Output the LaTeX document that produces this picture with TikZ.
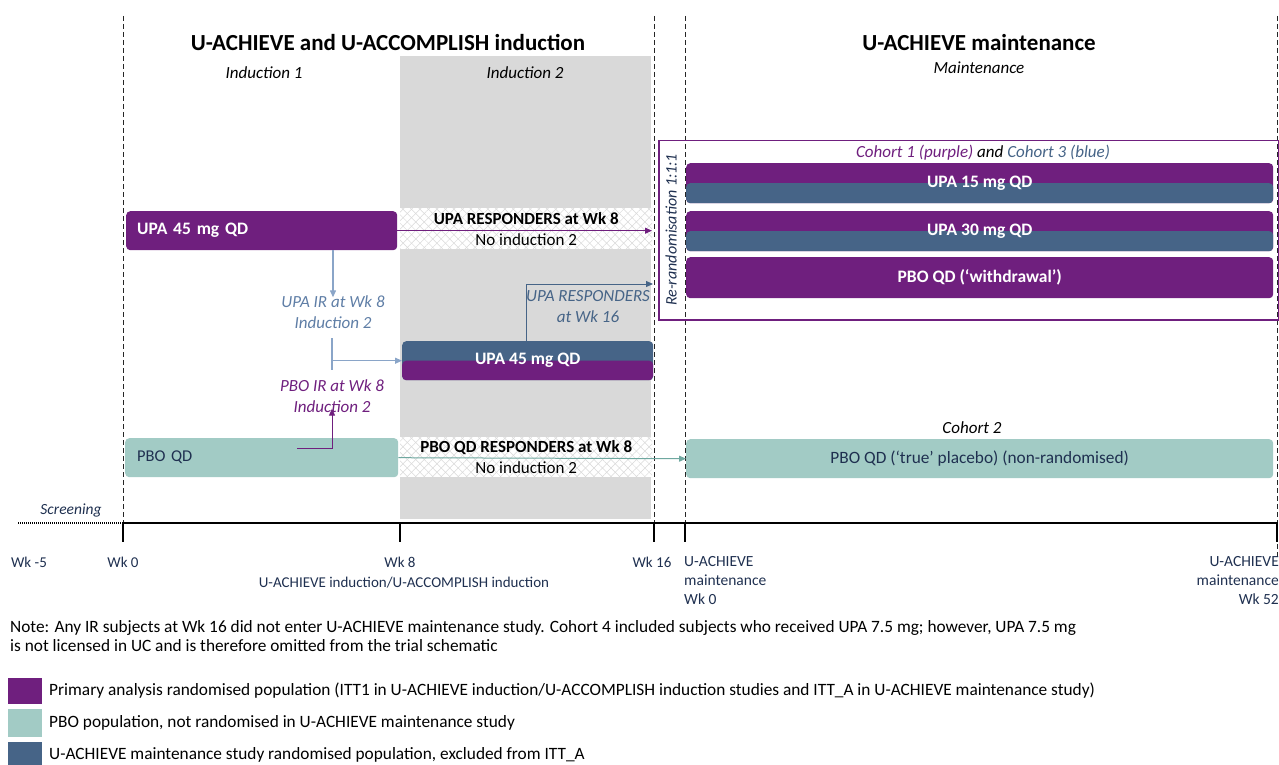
\documentclass[tikz,border=0pt]{standalone}
\usepackage{fontspec}
\setmainfont{Carlito}
\usetikzlibrary{arrows.meta,patterns.meta}
\definecolor{cpurple}{HTML}{6F1F7E}
\definecolor{cblue}{HTML}{466487}
\definecolor{cteal}{HTML}{A2CBC5}
\definecolor{cgray}{HTML}{D9D9D9}
\definecolor{cnavy}{HTML}{1F3050}
\definecolor{cslate}{HTML}{5F7EA6}
\definecolor{clight}{HTML}{8AA5C8}
\definecolor{cdteal}{HTML}{6FA8A0}
\tikzset{
  bar/.style={rounded corners=4pt, anchor=north west, inner sep=0pt, text=white,
    font=\fontsize{17.5}{20}\selectfont\bfseries},
  hatchbox/.style={anchor=north west, inner sep=0pt, fill=white, align=center,
    font=\fontsize{17}{21}\selectfont,
    postaction={pattern={Lines[angle=45,distance=6pt,line width=0.5pt]}, pattern color=black!15},
    postaction={pattern={Lines[angle=-45,distance=6pt,line width=0.5pt]}, pattern color=black!15}},
  vdash/.style={dash pattern=on 5pt off 3pt, line width=0.8pt, black!85},
  tipa/.style={-{Triangle[length=7pt,width=6pt]}},
  lab/.style={font=\fontsize{15}{20}\selectfont, text=cnavy, inner sep=0pt},
  ilab/.style={font=\fontsize{17}{21}\selectfont\itshape, inner sep=0pt, align=center},
  tick/.style={line width=1.8pt},
  legsq/.style={anchor=north west, inner sep=0pt, minimum width=34pt},
  legtx/.style={anchor=west, inner sep=0pt, font=\fontsize{17.3}{19}\selectfont},
  split/.style={path picture={\fill[cblue] (path picture bounding box.west) rectangle (path picture bounding box.south east);}},
}
\begin{document}
\begin{tikzpicture}[x=1pt,y=-1pt]
\useasboundingbox (0,0) rectangle (1279,765);

% grey induction 2 area
\fill[cgray] (400,56) rectangle (651,519);

% vertical dashed lines
\draw[vdash] (123,16) -- (123,523);
\draw[vdash] (654,16) -- (654,523);
\draw[vdash] (685,16) -- (685,523);
\draw[vdash] (1277,16) -- (1277,560);

% titles
\node[inner sep=0pt, font=\fontsize{23}{26}\selectfont\bfseries] (t1) at (388,42) {U-ACHIEVE and U-ACCOMPLISH induction};
\node[inner sep=0pt, font=\fontsize{23}{26}\selectfont\bfseries] (t2) at (979,43) {U-ACHIEVE maintenance};
\node[ilab] (ind1) at (264,73) {Induction 1};
\node[ilab] (ind2) at (525,73) {Induction 2};
\node[ilab] (maint) at (979,68) {Maintenance};

% hatched responder areas
\node[hatchbox, minimum width=252pt, minimum height=41pt] (h1) at (400,208)
  {\textbf{UPA RESPONDERS at Wk 8}\\No induction 2};
\node[hatchbox, minimum width=252pt, minimum height=40pt] (h2) at (400,437)
  {\textbf{PBO QD RESPONDERS at Wk 8}\\No induction 2};

% induction 1 bars
\node[bar, fill=cpurple, minimum height=39pt, text width=249pt, inner xsep=11pt, align=left] (upa1) at (126,211) {UPA 45 mg QD};
\node[bar, fill=cteal, minimum height=39pt, text width=249pt, inner xsep=12pt, align=left, text=cnavy, font=\fontsize{16.5}{18}\selectfont] (pbo1) at (125,438) {PBO QD};

% induction 2 bar
\node[bar, fill=cblue, minimum width=251pt, minimum height=39pt,
  path picture={\fill[cpurple] (path picture bounding box.west) rectangle (path picture bounding box.south east);}] (upa2) at (402,341) {UPA 45 mg QD};

% re-randomisation box
\node[draw=cpurple, line width=1.5pt, anchor=north west, inner sep=0pt, minimum width=620pt, minimum height=179pt] (rr) at (658,140) {};
\node[ilab, rotate=90, text=cnavy, font=\fontsize{16}{20}\selectfont\itshape] (rrt) at (671,230) {Re-randomisation 1:1:1};
\node[ilab] (coh13) at (983,153) {\textcolor{cpurple}{Cohort 1 (purple)} and \textcolor{cblue}{Cohort 3 (blue)}};

% maintenance bars
\node[bar, fill=cpurple, split, minimum width=587pt, minimum height=40pt] (m15) at (686,163) {UPA 15 mg QD};
\node[bar, fill=cpurple, split, minimum width=587pt, minimum height=40pt] (m30) at (686,211) {UPA 30 mg QD};
\node[bar, fill=cpurple, minimum width=587pt, minimum height=41pt] (mpbo) at (686,257) {PBO QD (‘withdrawal’)};
\node[ilab] (coh2) at (972,428) {Cohort 2};
\node[bar, fill=cteal, text=cnavy, font=\fontsize{17.3}{19}\selectfont, minimum width=587pt, minimum height=39pt] (mtrue) at (686,439) {PBO QD (‘true’ placebo) (non-randomised)};

% IR labels
\node[ilab, text=cslate] (upair) at (333,312) {UPA IR at Wk 8\\Induction 2};
\node[ilab, text=cpurple] (pboir) at (332,396) {PBO IR at Wk 8\\Induction 2};
\node[ilab, text=cblue] (r16t) at (588,307) {UPA RESPONDERS\\at Wk 16};

% connectors
\draw[cpurple, line width=1pt, tipa, shorten >=6pt] (upa1.east) -- (upa1.east -| rr.west);
\draw[cdteal, line width=1pt, tipa] (pbo1.east) -- (mtrue.west);
\draw[clight, line width=1.2pt, tipa] (upa1.south -| upair.north) -- ([yshift=-2pt]upair.north);
\coordinate (j1) at (332,338);
\coordinate (j2) at (332,370);
\draw[clight, line width=1.2pt] (j1) -- (j2);
\draw[clight, line width=1.2pt, tipa] (j1 |- upa2.west) -- (upa2.west);
\coordinate (p0) at (297,448);
\draw[cpurple, line width=1pt, tipa] (p0) -| ([yshift=4pt]pboir.south);
\coordinate (b1) at (526,284);
\draw[cblue, line width=1pt, tipa, shorten >=5pt] (b1 |- upa2.north) -- (b1) -- (b1 -| rr.west);

% time axis
\draw[line width=1.8pt, dash pattern=on 1pt off 1pt] (18,523) -- (123,523);
\draw[line width=1.8pt] (123,523) -- (1278,523);
\foreach \x in {123,400,654,685,1277} \draw[tick] (\x,523) -- (\x,542);
\node[ilab, text=cnavy, font=\fontsize{15.5}{18}\selectfont\itshape] (scr) at (71,510) {Screening};
\node[lab] (wkm5) at (29,562) {Wk -5};
\node[lab] (wk0) at (123,562) {Wk 0};
\node[lab] (wk8) at (400,562) {Wk 8};
\node[lab] (wk16) at (652,562) {Wk 16};
\node[lab] (indax) at (404,583) {U-ACHIEVE induction/U-ACCOMPLISH induction};
\node[lab, anchor=north west, align=left, font=\fontsize{15.5}{19}\selectfont] (mw0) at (684,556) {U-ACHIEVE\\maintenance\\Wk 0};
\node[lab, anchor=north east, align=right, font=\fontsize{15.5}{19}\selectfont] (mw52) at (1279,556) {U-ACHIEVE\\maintenance\\Wk 52};

% note
\node[anchor=north west, inner sep=0pt, align=left, font=\fontsize{17.3}{19}\selectfont] (note) at (10,620)
  {Note: Any IR subjects at Wk 16 did not enter U-ACHIEVE maintenance study. Cohort 4 included subjects who received UPA 7.5 mg; however, UPA 7.5 mg\\is not licensed in UC and is therefore omitted from the trial schematic};

% legend
\node[legsq, fill=cpurple, minimum height=26pt] (lg1) at (8,678) {};
\node[legsq, fill=cteal, minimum height=28pt] (lg2) at (8,709) {};
\node[legsq, fill=cblue, minimum height=23pt] (lg3) at (8,742) {};
\node[legtx] (lt1) at (49,691) {Primary analysis randomised population (ITT1 in U-ACHIEVE induction/U-ACCOMPLISH induction studies and ITT\_A in U-ACHIEVE maintenance study)};
\node[legtx] (lt2) at (49,723) {PBO population, not randomised in U-ACHIEVE maintenance study};
\node[legtx] (lt3) at (49,755) {U-ACHIEVE maintenance study randomised population, excluded from ITT\_A};
\end{tikzpicture}
\end{document}
